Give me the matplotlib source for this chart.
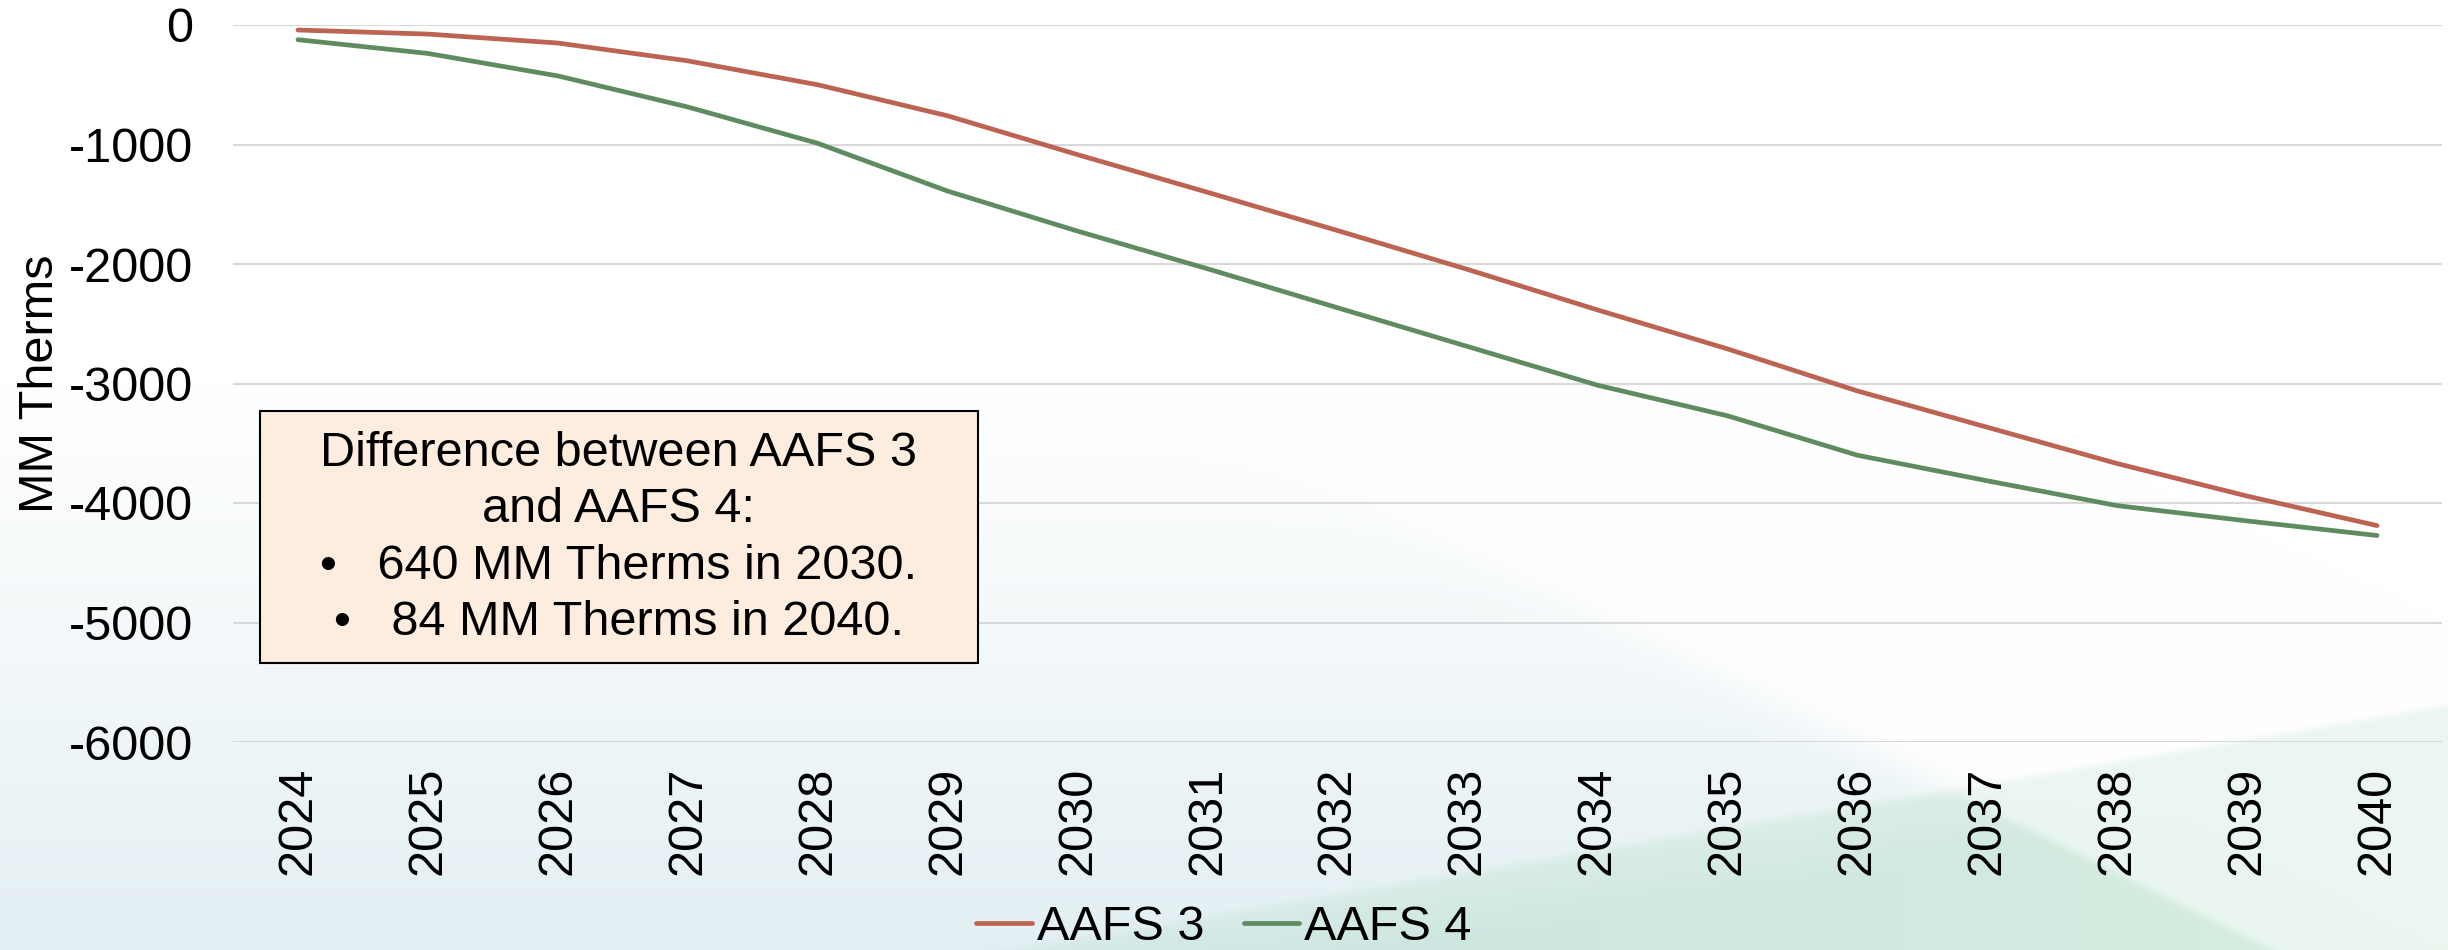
import numpy as np
import matplotlib
matplotlib.use("Agg")
import matplotlib.pyplot as plt
from matplotlib.patches import Rectangle

plt.rcParams['font.family'] = ['Liberation Sans', 'DejaVu Sans']
plt.rcParams['axes.unicode_minus'] = False

# data (MM Therms)
years = [str(y) for y in range(2024, 2041)]
aafs3 = [-42, -76, -151, -300, -500, -760, -1085, -1400, -1720, -2045,
         -2384, -2710, -3062, -3366, -3670, -3942, -4189]
aafs4 = [-123, -238, -426, -686, -990, -1390, -1725, -2040, -2366, -2690,
         -3014, -3270, -3600, -3814, -4022, -4150, -4272]
yticks = [0, -1000, -2000, -3000, -4000, -5000, -6000]
note = ("Difference between AAFS 3\nand AAFS 4:\n"
        "\u2022   640 MM Therms in 2030.\n\u2022   84 MM Therms in 2040.")

W, H = 2448, 950
fig = plt.figure(figsize=(W / 100, H / 100), dpi=100)
fig.patch.set_facecolor('white')

# slide-style background: pale blue wash on the left, teal/green wedges at the bottom
yy, xx = np.mgrid[0:H, 0:W].astype(float)
img = np.ones((H, W, 3))
# soft masks from the signed distance to the two diagonal edges
d1 = (1400 + (yy - 517) / 0.496) - xx
w1 = 1 / (1 + np.exp(-d1 / 5))
d2 = yy - (950 - (xx - 1011) * 0.1705)
w2 = 1 / (1 + np.exp(-d2 / 2))
t = (np.clip((yy - 380) / 570, 0, 1) ** 1.1) * (1 / (1 + np.exp(-d1 / 25)))
blue = np.array([227, 239, 243]) / 255
img = img * (1 - t[..., None]) + blue * t[..., None]
s = np.clip((xx - 1000) / 1200, 0, 1)[..., None]
depth = np.clip(d2 / 70, 0, 1)[..., None]
teal_lo = np.array([214, 234, 232]) * (1 - s) + np.array([222, 240, 230]) * s
teal_hi = np.array([201, 227, 225]) * (1 - s) + np.array([212, 235, 223]) * s
teal = (teal_lo * (1 - depth) + teal_hi * depth) / 255
green = np.array([235, 246, 240]) / 255
wedge = teal * w1[..., None] + green * (1 - w1[..., None])
img = img * (1 - w2[..., None]) + wedge * w2[..., None]
bg = fig.add_axes([0, 0, 1, 1], zorder=-10)
bg.imshow(img, aspect='auto', interpolation='bilinear')
bg.axis('off')

ax = fig.add_axes([233 / W, 1 - 742 / H, (2442 - 233) / W, (742 - 25) / H])
ax.set_facecolor('none')
x = np.arange(len(years))
ax.plot(x, aafs3, color='#BC6352', lw=3.4, solid_capstyle='round', label='AAFS 3')
ax.plot(x, aafs4, color='#5E8B60', lw=3.4, solid_capstyle='round', label='AAFS 4')

ax.set_xlim(-0.5, len(years) - 0.5)
ax.set_ylim(-6000, 0)
ax.set_yticks(yticks)
ax.set_yticklabels([str(v) for v in yticks])
ax.set_xticks(x)
ax.set_xticklabels(years, rotation=90)
ax.tick_params(axis='both', length=0, labelsize=35)
ax.tick_params(axis='y', pad=29)
ax.tick_params(axis='x', pad=18)
ax.yaxis.grid(True, color='#D9D9D9', lw=1.5)
ax.set_axisbelow(True)
for sp in ax.spines.values():
    sp.set_visible(False)
ax.set_ylabel('MM Therms', fontsize=35, labelpad=4)

# annotation box
fig.patches.append(Rectangle((260 / W, 1 - 663 / H), (978 - 260) / W, (663 - 411) / H,
                             transform=fig.transFigure, facecolor='#FDEDDE',
                             edgecolor='black', lw=1.5, zorder=5))
fig.text(619 / W, 1 - 538 / H, note, ha='center', va='center', multialignment='center',
         fontsize=35, linespacing=1.33, zorder=6)

fig.legend(loc='center', bbox_to_anchor=(0.5, 1 - 928 / H), ncol=2, frameon=False,
           fontsize=35, handlelength=1.15, handletextpad=0.1, columnspacing=0.8)

fig.savefig('out.png', dpi=100)
